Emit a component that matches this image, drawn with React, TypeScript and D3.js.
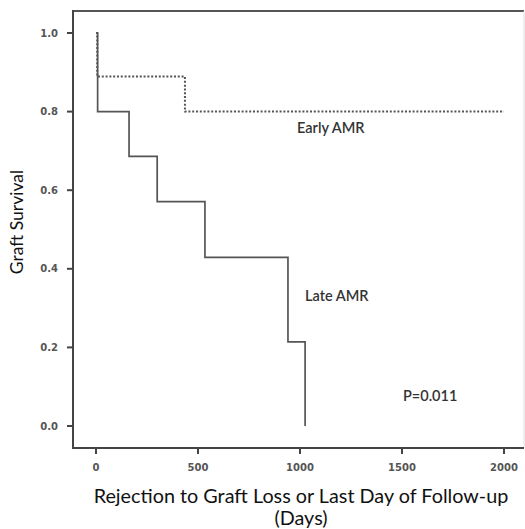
import React from "react";
import * as d3 from "d3";

const xTicks = [0, 500, 1000, 1500, 2000];
const yTicks = [0.0, 0.2, 0.4, 0.6, 0.8, 1.0];

// Kaplan-Meier steps: [day, survival after event]
const earlyDays = [0, 6, 436, 2000];
const earlySurv = [1.0, 0.889, 0.8, 0.8];

const lateDays = [0, 8, 162, 300, 534, 941, 1025];
const lateSurv = [1.0, 0.8, 0.686, 0.571, 0.429, 0.214, 0.0];

const W = 525;
const H = 529;

export default function App() {
  const x = d3.scaleLinear().domain([0, 2000]).range([96, 504]);
  const y = d3.scaleLinear().domain([0, 1]).range([426, 33]);

  const stepLine = d3
    .line<[number, number]>()
    .x((d) => x(d[0]))
    .y((d) => y(d[1]))
    .curve(d3.curveStepAfter);

  const earlyPts: [number, number][] = earlyDays.map((d, i) => [d, earlySurv[i]]);
  const latePts: [number, number][] = lateDays.map((d, i) => [d, lateSurv[i]]);

  const left = 73;
  const top = 11;
  const bottom = 448;
  const right = 524;

  const tickFont = "'DejaVu Sans', sans-serif";
  const labelFont = "Lato, 'Open Sans', sans-serif";

  return (
    <svg
      width={W}
      height={H}
      style={{ position: "absolute", left: 0, top: 0, background: "#fff" }}
    >
      <rect x={0} y={0} width={W} height={H} fill="#fff" />
      {/* frame */}
      <line x1={left} y1={top} x2={right} y2={top} stroke="#555" strokeWidth={2} />
      <line x1={right} y1={top} x2={right} y2={bottom} stroke="#ddd" strokeWidth={1} />
      <line x1={left} y1={top - 1} x2={left} y2={bottom + 1} stroke="#444" strokeWidth={2} />
      <line x1={left - 1} y1={bottom} x2={right} y2={bottom} stroke="#444" strokeWidth={2} />

      {/* y ticks */}
      {yTicks.map((t) => (
        <g key={"y" + t}>
          <line x1={left - 6} x2={left} y1={y(t)} y2={y(t)} stroke="#444" strokeWidth={2} />
          <text
            x={58}
            y={y(t)}
            dy="0.35em"
            textAnchor="end"
            fontFamily={tickFont}
            fontSize={10}
            fontWeight="bold"
            fill="#555"
          >
            {t.toFixed(1)}
          </text>
        </g>
      ))}

      {/* x ticks */}
      {xTicks.map((t) => (
        <g key={"x" + t}>
          <line x1={x(t)} x2={x(t)} y1={bottom} y2={bottom + 6} stroke="#444" strokeWidth={2} />
          <text
            x={x(t)}
            y={471}
            textAnchor="middle"
            fontFamily={tickFont}
            fontSize={10}
            fontWeight="bold"
            fill="#555"
          >
            {t}
          </text>
        </g>
      ))}

      {/* curves */}
      <path
        d={stepLine(latePts) || ""}
        fill="none"
        stroke="#555"
        strokeWidth={1.7}
      />
      <path
        d={stepLine(earlyPts) || ""}
        fill="none"
        stroke="#555"
        strokeWidth={2}
        strokeDasharray="2,1.8"
      />

      {/* annotations */}
      <text x={297} y={133} fontFamily={labelFont} fontSize={14.5} fontWeight={600} fill="#333">
        Early AMR
      </text>
      <text x={305} y={301} fontFamily={labelFont} fontSize={14.5} fontWeight={600} fill="#333">
        Late AMR
      </text>
      <text x={403} y={401} fontFamily={labelFont} fontSize={14.5} fontWeight={600} fill="#333">
        P=0.011
      </text>

      {/* axis titles */}
      <text
        transform={`translate(23, 222) rotate(-90)`}
        textAnchor="middle"
        fontFamily={labelFont}
        fontSize={17.5}
        fill="#111"
      >
        Graft Survival
      </text>
      <text x={301} y={503} textAnchor="middle" fontFamily={labelFont} fontSize={19.8} fill="#111">
        Rejection to Graft Loss or Last Day of Follow-up
      </text>
      <text x={301} y={525} textAnchor="middle" fontFamily={labelFont} fontSize={19.8} fill="#111">
        (Days)
      </text>
    </svg>
  );
}
